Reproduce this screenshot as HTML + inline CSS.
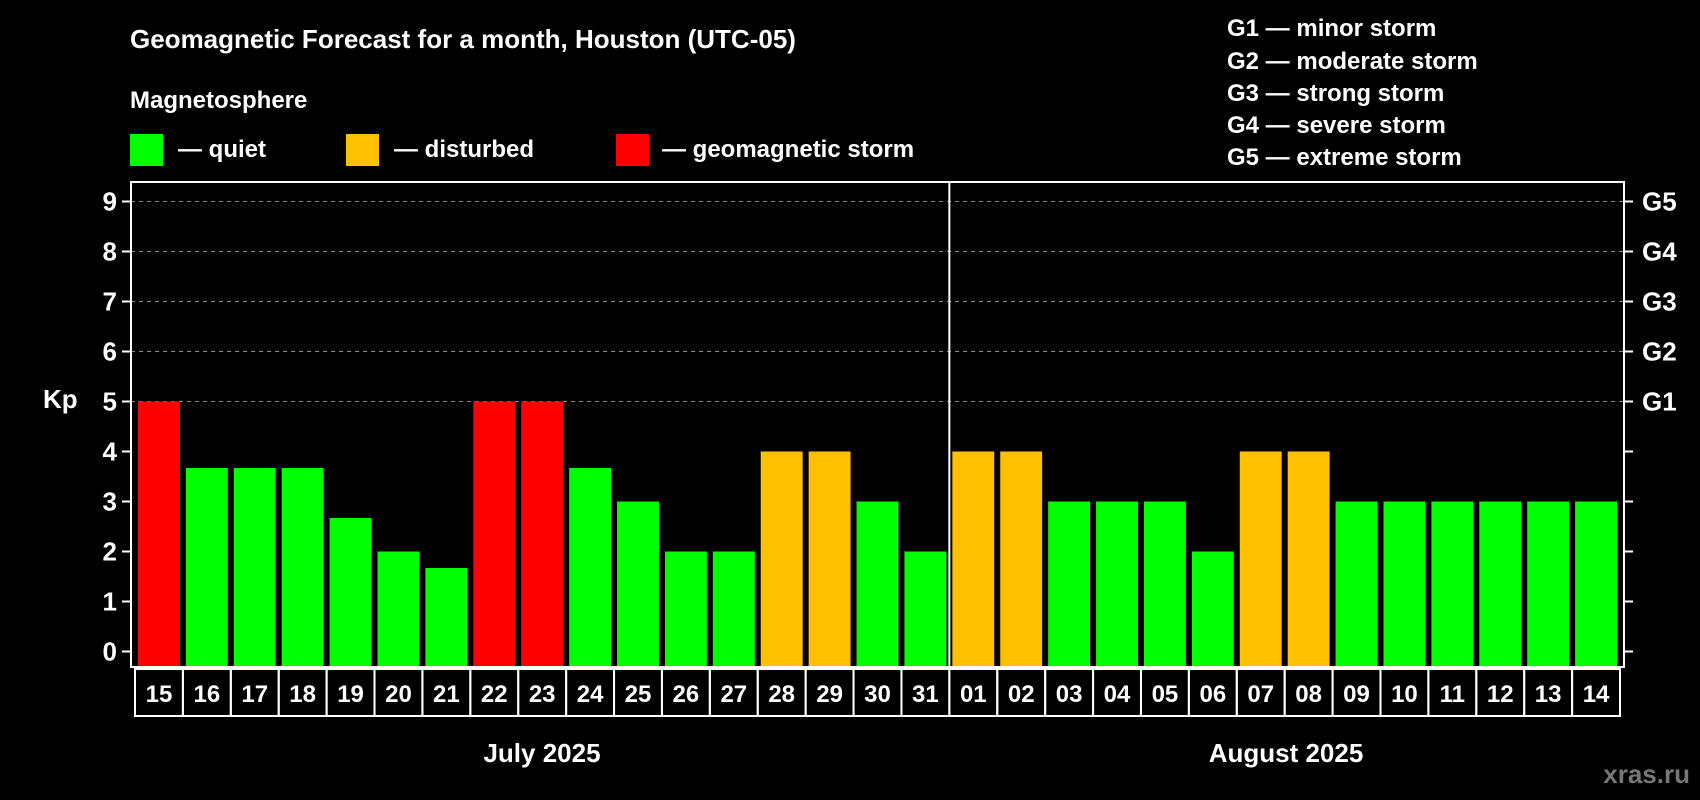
<!DOCTYPE html>
<html><head><meta charset="utf-8"><style>
html,body{margin:0;padding:0;background:#000;}
svg{display:block;font-family:"Liberation Sans",Arial,sans-serif;font-weight:bold;}
</style></head><body>
<svg id="chart" width="1700" height="800" xmlns="http://www.w3.org/2000/svg">
<rect width="1700" height="800" fill="#000"/>
<text x="130" y="48" fill="#fff" font-size="26">Geomagnetic Forecast for a month, Houston (UTC-05)</text>
<text x="130" y="108" fill="#fff" font-size="24">Magnetosphere</text>
<rect x="130" y="134" width="33" height="32" fill="#00ff00"/>
<text x="178" y="157" fill="#fff" font-size="24">— quiet</text>
<rect x="346" y="134" width="33" height="32" fill="#ffc000"/>
<text x="394" y="157" fill="#fff" font-size="24">— disturbed</text>
<rect x="616" y="134" width="33" height="32" fill="#ff0000"/>
<text x="662" y="157" fill="#fff" font-size="24">— geomagnetic storm</text>
<g fill="#fff" font-size="24">
<text x="1227" y="36">G1 — minor storm</text>
<text x="1227" y="69">G2 — moderate storm</text>
<text x="1227" y="101">G3 — strong storm</text>
<text x="1227" y="133">G4 — severe storm</text>
<text x="1227" y="165">G5 — extreme storm</text>
</g>
<text x="43" y="408" fill="#fff" font-size="26">Kp</text>
<g id="grid"></g><g id="bars"></g><g id="axes"></g>
<text x="542" y="762" fill="#fff" font-size="26" text-anchor="middle">July 2025</text>
<text x="1286" y="762" fill="#fff" font-size="26" text-anchor="middle">August 2025</text>
<text x="1690" y="783" fill="#777" font-size="26" text-anchor="end">xras.ru</text>
</svg>
<script>
const days = ["15","16","17","18","19","20","21","22","23","24","25","26","27","28","29","30","31","01","02","03","04","05","06","07","08","09","10","11","12","13","14"];
const kpValues = [5,3.67,3.67,3.67,2.67,2,1.67,5,5,3.67,3,2,2,4,4,3,2,4,4,3,3,3,2,4,4,3,3,3,3,3,3];
const yTicks = [0,1,2,3,4,5,6,7,8,9];
const gLabels = [[5,"G1"],[6,"G2"],[7,"G3"],[8,"G4"],[9,"G5"]];
const NS="http://www.w3.org/2000/svg";
const L=131,R=1624,T=182,B=667,x0=135,pitch=(1620-135)/31;
const y=v=>651.5-v*50;
const x=i=>x0+i*pitch;
function mk(t,a,p){const e=document.createElementNS(NS,t);for(const k in a)e.setAttribute(k,a[k]);p.appendChild(e);return e;}
const grid=document.getElementById('grid'),bars=document.getElementById('bars'),axes=document.getElementById('axes');
yTicks.forEach(v=>{
  if(v>=5){const g=mk('line',{x1:L,x2:R,y1:y(v),y2:y(v),stroke:'#888','stroke-dasharray':'4 4','stroke-width':1},grid);
  
  }
  const t=mk('line',{x1:L-9,x2:L,y1:y(v),y2:y(v),stroke:'#fff','stroke-width':2},axes);
  
  
  const t2=mk('line',{x1:R,x2:R+9,y1:y(v),y2:y(v),stroke:'#fff','stroke-width':2},axes);
  
  
  const l=mk('text',{x:L-14,y:y(v)+9,fill:'#fff','font-size':26,'text-anchor':'end'},axes);
  l.textContent=v;
  
  
});
gLabels.forEach(([v,s])=>{
  const l=mk('text',{x:R+18,y:y(v)+9,fill:'#fff','font-size':26},axes);
  l.textContent=s;
  
  
});
kpValues.forEach((v,i)=>{
  const c=v>=5?'#ff0000':(v>=4?'#ffc000':'#00ff00');
  const b=mk('rect',{x:x(i)+3,y:y(v),width:pitch-6,height:B-1-y(v),fill:c},bars);
  
  
  const cell=mk('rect',{x:x(i),y:669,width:pitch,height:47,fill:'none',stroke:'#fff','stroke-width':2},axes);
  
  
  const t=mk('text',{x:x(i)+pitch/2,y:702,fill:'#fff','font-size':24,'text-anchor':'middle'},axes);
  t.textContent=days[i];
  
  
});
const fr=mk('rect',{x:L,y:T,width:R-L,height:B-T,fill:'none',stroke:'#fff','stroke-width':2},axes);


const dv=mk('line',{x1:x(17),x2:x(17),y1:T,y2:B,stroke:'#fff','stroke-width':2},axes);


</script>
</body></html>
